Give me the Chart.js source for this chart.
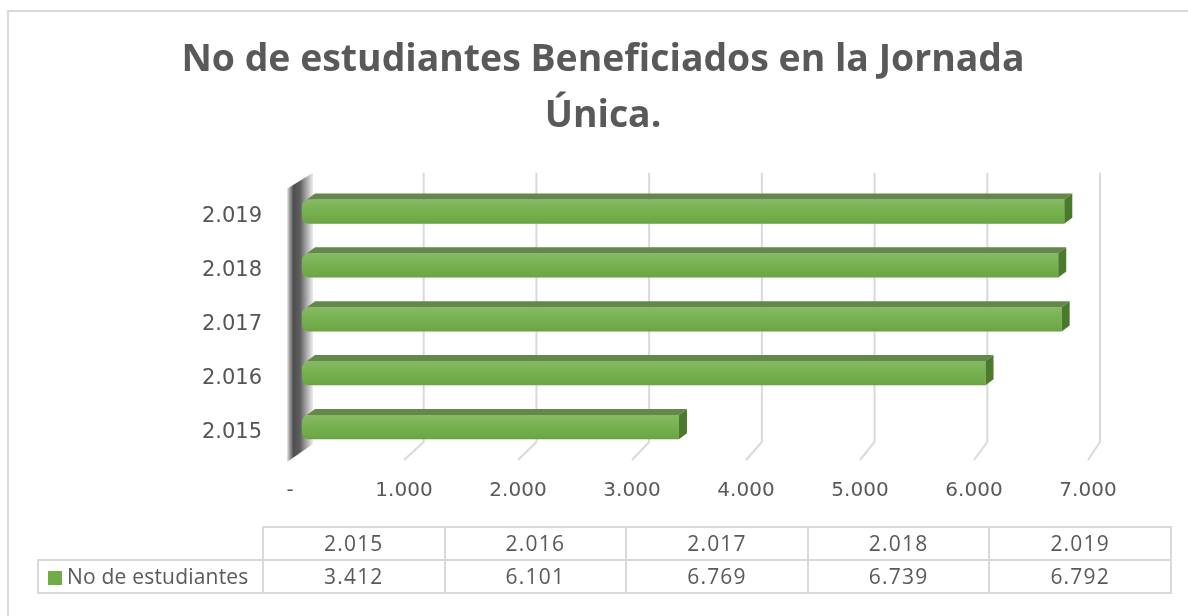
<!DOCTYPE html>
<html>
<head>
<meta charset="utf-8">
<script src="https://cdn.jsdelivr.net/npm/chart.js@4.4.1/dist/chart.umd.min.js"></script>
<style>
  html, body { margin: 0; padding: 0; background: #fff; }
  #wrap { position: relative; width: 1188px; height: 616px; overflow: hidden; background: #fff; }
  #c { position: absolute; left: 0; top: 0; }
  #frame { position: absolute; left: 7px; top: 10px; width: 1300px; height: 700px; border: 2px solid #d9d9d9; box-sizing: border-box; }
  #tbl { position: absolute; left: 37px; top: 526px; border-collapse: collapse; font-family: "Open Sans", sans-serif; font-size: 21px; color: #595959; table-layout: fixed; }
  #tbl td { border: 2px solid #d9d9d9; height: 31px; padding: 0; text-align: center; line-height: 31px; white-space: nowrap; letter-spacing: 1.2px; }
  #tbl td.blank { border-top: none; border-left: none; }
  #tbl td.legend { text-align: left; padding-left: 9px; letter-spacing: 0.2px; }
  .key { display: inline-block; width: 14px; height: 14px; background: #70ad47; margin-right: 5px; vertical-align: -1px; }
</style>
</head>
<body>
<div id="wrap">
  <div id="frame"></div>
  <canvas id="c" width="1188" height="616"></canvas>
  <table id="tbl"></table>
</div>
<script>
// ---- data ----
const titleLines = ["No de estudiantes Beneficiados en la Jornada", "Única."];
const categories = ["2.015", "2.016", "2.017", "2.018", "2.019"];
const seriesName = "No de estudiantes";
const values = [3412, 6101, 6769, 6739, 6792];
const xTicks = [0, 1000, 2000, 3000, 4000, 5000, 6000, 7000];

function fmt(v) {
  if (v === 0) return "-";
  return String(v).replace(/\B(?=(\d{3})+(?!\d))/g, ".");
}

// ---- data table (HTML) ----
(function buildTable() {
  const t = document.getElementById('tbl');
  const cg = document.createElement('colgroup');
  const widths = [225].concat(categories.map(() => 181.6));
  widths.forEach(w => { const c = document.createElement('col'); c.style.width = w + 'px'; cg.appendChild(c); });
  t.appendChild(cg);
  const r1 = document.createElement('tr');
  const b = document.createElement('td'); b.className = 'blank'; r1.appendChild(b);
  categories.forEach(c => { const td = document.createElement('td'); td.textContent = c; r1.appendChild(td); });
  t.appendChild(r1);
  const r2 = document.createElement('tr');
  const lg = document.createElement('td'); lg.className = 'legend';
  const k = document.createElement('span'); k.className = 'key'; lg.appendChild(k);
  lg.appendChild(document.createTextNode(seriesName));
  r2.appendChild(lg);
  values.forEach(v => { const td = document.createElement('td'); td.textContent = fmt(v); r2.appendChild(td); });
  t.appendChild(r2);
})();

// ---- 3D scene plugin ----
const DEPTH_X = 8, DEPTH_Y = 6;
const scene3d = {
  id: 'scene3d',
  beforeDatasetsDraw(chart) {
    const ctx = chart.ctx, xs = chart.scales.x, ca = chart.chartArea;
    const left = ca.left, top = ca.top, bottom = ca.bottom;
    const backX = px => left + 21 + (px - left) * (789 / 798);
    ctx.save();
    ctx.strokeStyle = '#d9d9d9';
    ctx.lineWidth = 2;
    xTicks.forEach((v, i) => {
      if (i === 0) return;
      const px = xs.getPixelForValue(v);
      const bx = backX(px);
      ctx.beginPath();
      ctx.moveTo(bx, top - 12);
      ctx.lineTo(bx, bottom - 12);
      ctx.lineTo(px, bottom + 6);
      ctx.stroke();
    });
    // left wall
    const wl = left - 3, wr = left + 23;
    const g = ctx.createLinearGradient(wl, 0, wr, 0);
    g.addColorStop(0, '#e8e8e8');
    g.addColorStop(0.1, '#a0a0a0');
    g.addColorStop(0.25, '#4f4f4f');
    g.addColorStop(0.5, '#5e5e5e');
    g.addColorStop(0.75, '#a8a8a8');
    g.addColorStop(1, '#ededed');
    ctx.fillStyle = g;
    ctx.beginPath();
    ctx.moveTo(wl, top + 4);
    ctx.lineTo(wr, top - 12);
    ctx.lineTo(wr, bottom - 10);
    ctx.lineTo(wl, bottom + 8);
    ctx.closePath();
    ctx.fill();
    ctx.restore();
  },
  afterDatasetsDraw(chart) {
    const ctx = chart.ctx;
    const meta = chart.getDatasetMeta(0);
    ctx.save();
    meta.data.forEach(el => {
      const p = el.getProps(['x', 'y', 'base', 'height'], true);
      const xL = p.base, xR = p.x, yT = p.y - p.height / 2, yB = p.y + p.height / 2;
      const gr = ctx.createLinearGradient(0, yT, 0, yB);
      gr.addColorStop(0, 'rgba(255,255,255,0.16)');
      gr.addColorStop(0.5, 'rgba(255,255,255,0.04)');
      gr.addColorStop(1, 'rgba(0,0,0,0.06)');
      ctx.fillStyle = gr;
      ctx.beginPath();
      ctx.roundRect(xL, yT, xR - xL, yB - yT, [7, 0, 0, 7]);
      ctx.fill();
      ctx.fillStyle = '#62894a';
      ctx.beginPath();
      ctx.moveTo(xL + 5, yT);
      ctx.lineTo(xR, yT);
      ctx.lineTo(xR + DEPTH_X, yT - DEPTH_Y);
      ctx.lineTo(xL + 5 + DEPTH_X, yT - DEPTH_Y);
      ctx.closePath();
      ctx.fill();
      ctx.fillStyle = '#4b7a2c';
      ctx.beginPath();
      ctx.moveTo(xR, yT);
      ctx.lineTo(xR + DEPTH_X, yT - DEPTH_Y);
      ctx.lineTo(xR + DEPTH_X, yB - DEPTH_Y);
      ctx.lineTo(xR, yB);
      ctx.closePath();
      ctx.fill();
    });
    ctx.restore();
  }
};

new Chart(document.getElementById('c'), {
  type: 'bar',
  data: {
    labels: categories,
    datasets: [{
      label: seriesName,
      data: values,
      backgroundColor: '#70ad47',
      borderWidth: 0,
      borderSkipped: false,
      borderRadius: { topLeft: 7, bottomLeft: 7, topRight: 0, bottomRight: 0 },
      barPercentage: 0.9,
      categoryPercentage: 0.5,
      base: 105
    }]
  },
  options: {
    indexAxis: 'y',
    responsive: false,
    animation: false,
    events: [],
    layout: { padding: { left: 118, right: 100, top: 0, bottom: 102 } },
    plugins: {
      legend: { display: false },
      tooltip: { enabled: false },
      title: {
        display: true,
        text: titleLines,
        color: '#595959',
        font: { family: '"Open Sans", sans-serif', size: 37.4, weight: 'bold', lineHeight: 1.48 },
        padding: { top: 33, bottom: 41 }
      }
    },
    scales: {
      x: {
        type: 'linear',
        min: 0, max: 7000,
        afterBuildTicks(scale) { scale.ticks = xTicks.map(v => ({ value: v })); },
        afterFit(scale) { scale.height = 60; },
        grid: { display: false, drawTicks: false },
        border: { display: false },
        ticks: {
          padding: 25,
          color: '#595959',
          font: { family: '"DejaVu Sans", sans-serif', size: 20 },
          callback: v => fmt(v),
          maxRotation: 0
        }
      },
      y: {
        reverse: true,
        afterFit(scale) { scale.width = 172; },
        grid: { display: false, drawTicks: false },
        border: { display: false },
        ticks: {
          padding: 28,
          labelOffset: 5,
          color: '#555555',
          font: { family: '"DejaVu Sans", sans-serif', size: 21 }
        }
      }
    }
  },
  plugins: [scene3d]
});
</script>
</body>
</html>
